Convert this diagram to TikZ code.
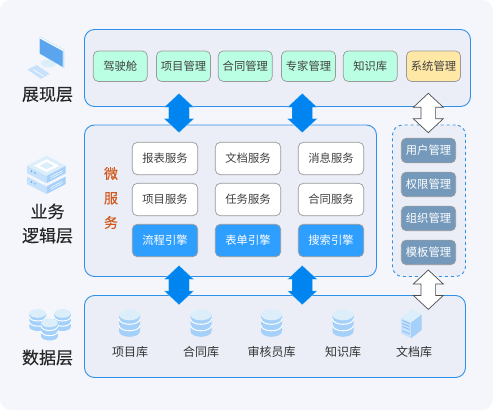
\documentclass[tikz,border=0pt]{standalone}
\usepackage{fontspec}
\setmainfont{Noto Sans CJK SC}
\newfontfamily\headfont[FakeBold=0.25]{Noto Sans CJK SC}
\usetikzlibrary{positioning,calc}

\definecolor{pagebg}{HTML}{F4F6FB}
\definecolor{panelbg}{HTML}{EBEEF7}
\definecolor{panelline}{HTML}{2E90E8}
\definecolor{mintbox}{HTML}{BAFFE3}
\definecolor{sandbox}{HTML}{FFE8A6}
\definecolor{enginebox}{HTML}{2F9FFF}
\definecolor{slatebox}{HTML}{7499BB}
\definecolor{boxline}{HTML}{999999}
\definecolor{arrowblue}{HTML}{0085F0}
\definecolor{iconlight}{HTML}{DDEEFB}
\definecolor{iconpale}{HTML}{C6E1FB}
\definecolor{iconmid}{HTML}{A4D0F9}
\definecolor{icondeep}{HTML}{5AA5EE}
\definecolor{labelorange}{HTML}{D2591E}

\tikzset{
    dbicon/.pic={
        \fill[iconmid] (-10.5,5.5) -- (-10.5,22) arc (180:0:10.5 and 5.5) -- (10.5,5.5) -- cycle;
        \draw[white, line width=1pt] (-10.5,9.5) arc (180:0:10.5 and 5.5);
        \draw[white, line width=1pt] (-10.5,16) arc (180:0:10.5 and 5.5);
        \fill[iconlight] (0,5.5) ellipse (10.5 and 5.5);
    },
    slabicon/.pic={
        \fill[iconpale] (-19.5,0) -- (0,10) -- (0,17.5) -- (-19.5,7.5) -- cycle;
        \fill[iconmid] (19.2,0) -- (0,10) -- (0,17.5) -- (19.2,7.5) -- cycle;
        \fill[icondeep] (-15,5.5) circle (0.8);
        \fill[icondeep] (-11.5,7.3) circle (0.8);
        \draw[white, line width=0.5pt] (4,11) -- (16,4.8);
        \draw[white, line width=0.5pt] (4,13) -- (16,6.8);
    },
}

\begin{document}
\begin{tikzpicture}[
    x=1pt, y=-1pt,
    panel/.style={draw=panelline, fill=panelbg, line width=0.9pt, rounded corners=10pt, inner sep=0pt, outer sep=0pt},
    topbox/.style={draw=boxline, fill=mintbox, line width=0.7pt, rounded corners=5pt, minimum width=54pt, minimum height=30.5pt, inner sep=0pt, text=black!75, font=\fontsize{11.3pt}{13pt}\selectfont},
    svcbox/.style={topbox, fill=white, minimum width=65.4pt, minimum height=32.4pt},
    enginenode/.style={svcbox, fill=enginebox, text=white},
    mgmtbox/.style={topbox, fill=slatebox, text=white, minimum width=54.4pt, minimum height=24.6pt},
    dblab/.style={font=\fontsize{12pt}{14pt}\selectfont, text=black!80, inner sep=0pt},
    layerlab/.style={font=\headfont\fontsize{17pt}{24pt}\selectfont, text=black!85, inner sep=0pt, align=center},
    blockarrow/.style={to path={-- ++(15,14) -- ++(-#1,0) -- ++(0,11.4) -- ++(#1,0) -- (\tikztotarget) -- ++(-15,-14) -- ++(#1,0) -- ++(0,-11.4) -- ++(-#1,0) -- cycle}},
    bluearrow/.style={blockarrow=4.7, fill=arrowblue, draw=white, draw opacity=0.5, line width=0.4pt},
    whitearrow/.style={blockarrow=7.7, fill=white, draw=black!70, line width=0.7pt},
]
\useasboundingbox (0,0) rectangle (493,410);

% Page
\fill[white] (0,0) rectangle (493,410);
\fill[pagebg, rounded corners=11pt] (0,0) rectangle (493,410);

% Panels
\node[panel, minimum width=386pt, minimum height=77pt] (presPanel) at (277.5,68) {};
\node[panel, minimum width=292pt, minimum height=151.5pt] (logicPanel) at (230.5,200.75) {};
\node[panel, dashed, minimum width=73pt, minimum height=151.5pt] (mgmtPanel) at (429,200.75) {};
\node[panel, minimum width=381pt, minimum height=82pt] (dataPanel) at (275,336.5) {};

% Top row
\node[topbox] (cockpit) at (120.3,66.2) {驾驶舱};
\node[topbox] (projMgmt) at (183.5,66.2) {项目管理};
\node[topbox] (contractMgmt) at (245.3,66.2) {合同管理};
\node[topbox] (expertMgmt) at (308.5,66.2) {专家管理};
\node[topbox] (knowledge) at (370.3,66.2) {知识库};
\node[topbox, fill=sandbox] (sysMgmt) at (433.5,66.2) {系统管理};

% Services
\node[svcbox] (reportSvc) at (165,158.5) {报表服务};
\node[svcbox] (docSvc) at (248,158.5) {文档服务};
\node[svcbox] (msgSvc) at (331,158.5) {消息服务};
\node[svcbox] (projSvc) at (165,199.5) {项目服务};
\node[svcbox] (taskSvc) at (248,199.5) {任务服务};
\node[svcbox] (contractSvc) at (331,199.5) {合同服务};
\node[enginenode] (flowEngine) at (165,240.5) {流程引擎};
\node[enginenode] (formEngine) at (248,240.5) {表单引擎};
\node[enginenode] (searchEngine) at (331,240.5) {搜索引擎};

\node[font=\headfont\fontsize{14pt}{24.5pt}\selectfont, text=labelorange, align=center, inner sep=0pt] (microLab) at (111,198) {微\\服\\务};

% Management column
\node[mgmtbox] (userMgmt) at (428.5,150.5) {用户管理};
\node[mgmtbox] (authMgmt) at (428.5,184.4) {权限管理};
\node[mgmtbox] (orgMgmt) at (428.5,218.4) {组织管理};
\node[mgmtbox] (tplMgmt) at (428.5,252.4) {模板管理};

% Store labels and icons
\node[dblab] (projDb) at (130,352) {项目库};
\node[dblab] (contractDb) at (201,352) {合同库};
\node[dblab] (auditDb) at (271.5,352) {审核员库};
\node[dblab] (knowDb) at (343,352) {知识库};
\node[dblab] (docDb) at (414,352) {文档库};
\pic at (129.5,309.3) {dbicon};
\pic at (201,309.3) {dbicon};
\pic at (271.5,309.3) {dbicon};
\pic at (343,309.3) {dbicon};

% Document cabinet
\fill[iconpale] (401,317.7) -- (411,322.3) -- (411,338.3) -- (401,333.3) -- cycle;
\fill[iconmid] (411,322.3) -- (421.7,314.3) -- (421.7,330) -- (411,338.3) -- cycle;
\fill[iconlight] (401,317.7) -- (412.3,308.7) -- (421.7,314.3) -- (411,322.3) -- cycle;
\draw[icondeep!80!white, line width=0.7pt] (402.5,320.5) -- (409.5,323.5);
\draw[icondeep!80!white, line width=0.7pt] (402.5,323.5) -- (409.5,326.5);
\draw[icondeep!80!white, line width=0.7pt] (402.5,326.5) -- (409.5,329.5);
\draw[icondeep!80!white, line width=0.7pt] (402.5,331) -- (409.5,334);

% Layer labels
\node[layerlab] (presLab) at (47.5,94.5) {展现层};
\node[layerlab] (logicLab) at (47.5,223.5) {业务\\逻辑层};
\node[layerlab] (dataLab) at (47.5,357.5) {数据层};

% Monitor icon
\fill[iconlight] (48.3,56) -- (48.3,64) -- (52,64) -- (52,58) -- cycle;
\fill[iconlight] (48.3,63.5) ellipse (7.5 and 4);
\fill[iconpale] (39.3,36) -- (64.3,49.5) -- (64.3,68.3) -- (39.3,53.5) -- cycle;
\fill[white] (39.3,36.8) -- (63.7,50) -- (63.7,51.3) -- (39.3,38) -- cycle;
\fill[icondeep] (39.8,38.7) -- (62.7,51.2) -- (62.7,66.8) -- (39.8,53.5) -- cycle;
\fill[iconpale] (27.3,69.5) -- (36.7,65) -- (49.7,73.8) -- (41,78.8) -- cycle;
\draw[white, line width=0.6pt] (33,69.5) -- (43.5,76);

% Stacked-server icon
\pic at (46.5,176.5) {slabicon};
\pic at (46.5,165.7) {slabicon};
\fill[iconlight] (27,165.7) -- (46.7,155.7) -- (65.7,165.7) -- (46.7,175.7) -- cycle;
\fill[white] (34,165.7) -- (46.7,159.3) -- (59,165.7) -- (46.7,172) -- cycle;
\fill[iconlight] (39.5,165.7) -- (46.7,162) -- (53.7,165.7) -- (46.7,169.3) -- cycle;

% Small stacks beside the data label
\pic[scale=0.8] at (37.7,309) {dbicon};
\pic[scale=0.8] at (62.5,309) {dbicon};
\pic[scale=0.8] at (49.5,318.5) {dbicon};

% Arrows
\coordinate (upA) at (179,93.3);
\coordinate (midA) at (179,132.7);
\coordinate (upB) at (302.3,93.3);
\coordinate (midB) at (302.3,132.7);
\coordinate (upC) at (428.3,93.3);
\coordinate (midC) at (428.3,132.7);
\coordinate (lowA) at (179,265.4);
\coordinate (dbA) at (179,304.8);
\coordinate (lowB) at (302.3,265.4);
\coordinate (dbB) at (302.3,304.8);
\coordinate (lowC) at (428.3,270);
\coordinate (dbC) at (428.3,309.4);
\draw[bluearrow] (upA) to (midA);
\draw[bluearrow] (upB) to (midB);
\draw[whitearrow] (upC) to (midC);
\draw[bluearrow] (lowA) to (dbA);
\draw[bluearrow] (lowB) to (dbB);
\draw[whitearrow] (lowC) to (dbC);
\end{tikzpicture}
\end{document}
